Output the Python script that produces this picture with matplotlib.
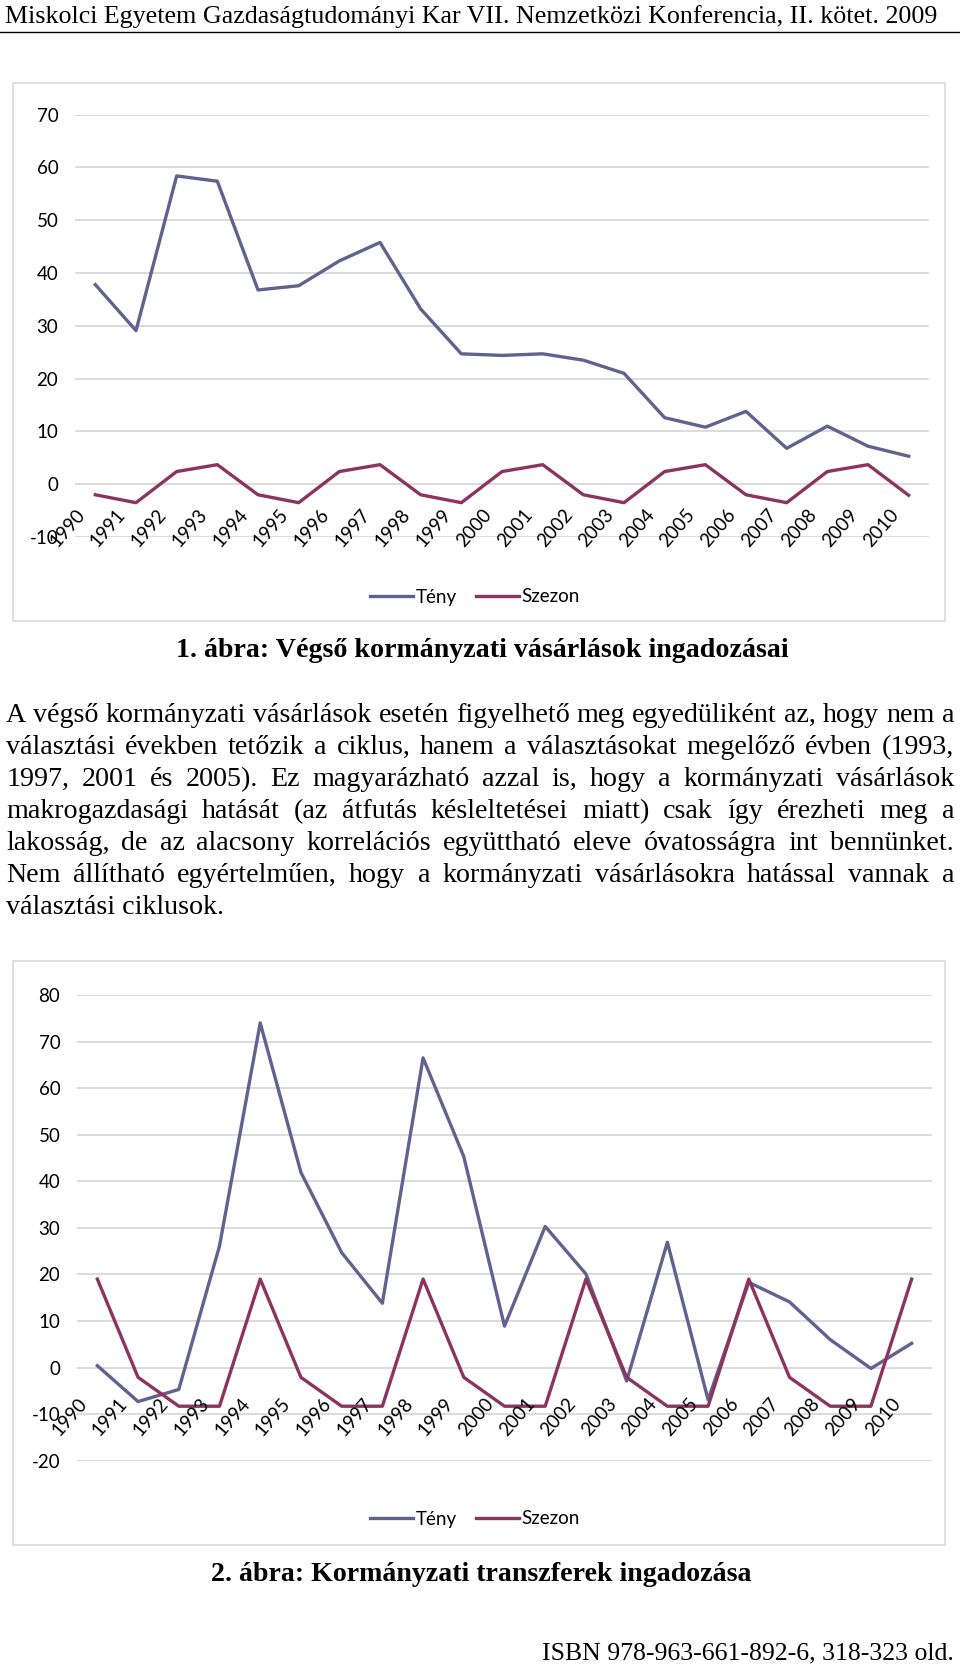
import matplotlib
matplotlib.use("Agg")
import matplotlib.pyplot as plt
import matplotlib.transforms as mtransforms
from matplotlib.patches import Rectangle
from matplotlib.lines import Line2D

plt.rcParams["axes.unicode_minus"] = False

W, H = 960, 1666

years = [str(y) for y in range(1990, 2011)]

# 1. ábra: Végső kormányzati vásárlások
teny1 = [37.8, 29.1, 58.4, 57.4, 36.8, 37.6, 42.3, 45.8, 33.2, 24.7, 24.4,
         24.7, 23.5, 21.0, 12.6, 10.8, 13.8, 6.8, 11.0, 7.2, 5.3]
szezon1 = [-2.0, -3.5, 2.4, 3.7, -2.0, -3.5, 2.4, 3.7, -2.0, -3.5, 2.4,
           3.7, -2.0, -3.5, 2.4, 3.7, -2.0, -3.5, 2.4, 3.7, -2.1]

# 2. ábra: Kormányzati transzferek
teny2 = [0.4, -7.3, -4.7, 26.1, 74.0, 41.9, 24.7, 13.8, 66.5, 45.3, 8.9,
         30.3, 20.1, -2.9, 26.9, -6.9, 18.3, 14.1, 6.0, -0.2, 5.2]
szezon2 = [19.0, -2.1, -8.3, -8.3, 19.0, -2.1, -8.3, -8.3, 19.0, -2.1, -8.3,
           -8.3, 19.0, -2.1, -8.3, -8.3, 19.0, -2.1, -8.3, -8.3, 19.0]

header = "Miskolci Egyetem Gazdaságtudományi Kar VII. Nemzetközi Konferencia, II. kötet. 2009"
caption1 = "1. ábra: Végső kormányzati vásárlások ingadozásai"
caption2 = "2. ábra: Kormányzati transzferek ingadozása"
isbn = "ISBN 978-963-661-892-6, 318-323 old."
paragraph = [
    "A végső kormányzati vásárlások esetén figyelhető meg egyedüliként az, hogy nem a",
    "választási években tetőzik a ciklus, hanem a választásokat megelőző évben (1993,",
    "1997, 2001 és 2005). Ez magyarázható azzal is, hogy a kormányzati vásárlások",
    "makrogazdasági hatását (az átfutás késleltetései miatt) csak így érezheti meg a",
    "lakosság, de az alacsony korrelációs együttható eleve óvatosságra int bennünket.",
    "Nem állítható egyértelműen, hogy a kormányzati vásárlásokra hatással vannak a",
    "választási ciklusok.",
]

TENY_C = "#62618F"
SZEZON_C = "#8C3460"
GRID_C = "#D9D9D9"
SERIF = "Liberation Serif"
CHART_FONT = "Lato"
FS = 13.5

fig = plt.figure(figsize=(W / 100, H / 100), dpi=100)
renderer = fig.canvas.get_renderer()


def fx(x):
    return x / W


def fy(y):
    return 1 - y / H


def text_width(s, size, **kw):
    t = fig.text(0, 0, s, size=size, **kw)
    w = t.get_window_extent(renderer).width
    t.remove()
    return w


def fit_size(s, width, **kw):
    return 10 * width / text_width(s, 10, **kw)


# fejléc
fig.text(fx(5), fy(23), header, ha="left", va="baseline", family=SERIF,
         size=fit_size(header, 930, family=SERIF))
fig.add_artist(Line2D([0, 1], [fy(32), fy(32)], color="black", lw=1.0))


def chart(box, axbox, teny, szezon, ylim, pad_y, legend_y):
    x0, y0, x1, y1 = box
    fig.add_artist(Rectangle((fx(x0), fy(y1)), (x1 - x0) / W, (y1 - y0) / H,
                             fill=False, ec=GRID_C, lw=1.2,
                             transform=fig.transFigure))
    l, t, r, b = axbox
    ax = fig.add_axes([fx(l), fy(b), (r - l) / W, (b - t) / H])
    xs = range(len(years))
    ln1, = ax.plot(xs, teny, color=TENY_C, lw=2.4, label="Tény")
    ln2, = ax.plot(xs, szezon, color=SZEZON_C, lw=2.4, label="Szezon")
    ax.set_xlim(-0.5, len(years) - 0.5)
    ax.set_ylim(*ylim)
    ax.set_yticks(range(ylim[0], ylim[1] + 1, 10))
    ax.yaxis.grid(True, color=GRID_C, lw=1.3)
    ax.set_axisbelow(True)
    for s in ax.spines.values():
        s.set_visible(False)
    ax.set_xticks([])
    ax.tick_params(axis="y", length=0, pad=12, labelsize=FS)
    for lb in ax.get_yticklabels():
        lb.set_family(CHART_FONT)
    off = mtransforms.offset_copy(ax.transData, fig=fig, x=-20, y=-pad_y,
                                  units="dots")
    for i, yr in enumerate(years):
        ax.text(i, 0, yr, transform=off, ha="right", va="top", rotation=49,
                rotation_mode="anchor", family=CHART_FONT, size=FS)
    fig.legend(handles=[ln1, ln2], loc="center",
               bbox_to_anchor=(fx(475), fy(legend_y)), ncol=2, frameon=False,
               prop={"family": CHART_FONT, "size": FS}, handlelength=2.3,
               handletextpad=0.15, columnspacing=1.0)
    return ax


chart((13, 83, 945, 621), (75, 114.7, 929, 537), teny1, szezon1, (-10, 70),
      22, 597)
chart((13, 961, 945, 1545), (77, 995, 932, 1460.7), teny2, szezon2, (-20, 80),
      27, 1519)

# ábrafeliratok
fig.text(fx(482), fy(657), caption1, ha="center", va="baseline", family=SERIF,
         weight="bold", size=fit_size(caption1, 614, family=SERIF, weight="bold"))
fig.text(fx(481), fy(1581), caption2, ha="center", va="baseline", family=SERIF,
         weight="bold", size=fit_size(caption2, 542, family=SERIF, weight="bold"))
fig.text(fx(954), fy(1659), isbn, ha="right", va="baseline", family=SERIF,
         size=fit_size(isbn, 411, family=SERIF))

# sorkizárt bekezdés
left, right = 6, 954
psize = 22
widest = max(text_width(s, psize, family=SERIF) for s in paragraph[:-1])
if widest > (right - left) * 0.995:
    psize *= (right - left) * 0.995 / widest
for k, line in enumerate(paragraph):
    yb = fy(721.7 + 32 * k)
    if k == len(paragraph) - 1:
        fig.text(fx(left), yb, line, ha="left", va="baseline", family=SERIF,
                 size=psize)
        continue
    words = line.split()
    ws = [text_width(w, psize, family=SERIF) for w in words]
    gap = (right - left - sum(ws)) / (len(words) - 1)
    x = left
    for w, wd in zip(words, ws):
        fig.text(fx(x), yb, w, ha="left", va="baseline", family=SERIF,
                 size=psize)
        x += wd + gap

fig.savefig("out.png", dpi=100)
